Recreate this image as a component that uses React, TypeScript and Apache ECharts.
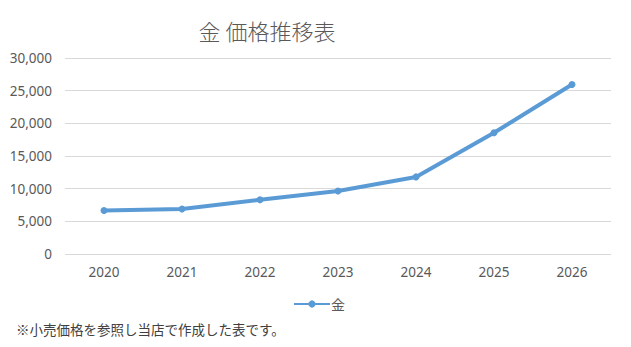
import React, { useEffect, useRef } from "react";
import * as echarts from "echarts";

const years = ["2020", "2021", "2022", "2023", "2024", "2025", "2026"];
const goldPrices = [6650, 6900, 8300, 9650, 11800, 18550, 25950];
const seriesName = "金";
const titleText = "金 価格推移表";
const footnote = "※小売価格を参照し当店で作成した表です。";

const textColor = "#595959";
const lineColor = "#5B9BD5";
const numFont = "'Noto Sans', sans-serif";
const cjkFont = "'Noto Sans CJK JP', sans-serif";

export default function App() {
  const ref = useRef<HTMLDivElement>(null);
  useEffect(() => {
    if (!ref.current) return;
    const chart = echarts.init(ref.current, undefined, { renderer: "svg" });
    chart.setOption({
      animation: false,
      backgroundColor: "#ffffff",
      title: {
        text: titleText,
        left: 262,
        top: 14,
        textAlign: "center",
        textStyle: { fontFamily: cjkFont, fontSize: 22, fontWeight: 300, color: textColor },
      },
      legend: {
        data: [seriesName],
        left: 288,
        top: 292,
        itemWidth: 36,
        itemHeight: 9,
        itemGap: 2,
        textStyle: { fontFamily: cjkFont, fontSize: 14, color: textColor, padding: [0, 0, 0, -4] },
      },
      graphic: [
        {
          type: "text",
          left: 16,
          top: 322,
          style: { text: footnote, font: `13.5px ${cjkFont}`, fill: "#404040" },
        },
      ],
      grid: { left: 65, right: 20, top: 58, bottom: 93, containLabel: false },
      xAxis: {
        type: "category",
        data: years,
        boundaryGap: true,
        axisLine: { show: false },
        axisTick: { show: false },
        axisLabel: { fontFamily: numFont, fontSize: 13.5, color: textColor, margin: 11 },
      },
      yAxis: {
        type: "value",
        min: 0,
        max: 30000,
        interval: 5000,
        axisLine: { show: false },
        axisTick: { show: false },
        splitLine: { lineStyle: { color: "#d9d9d9", width: 1 } },
        axisLabel: {
          fontFamily: numFont,
          fontSize: 13.5,
          color: textColor,
          margin: 13,
          formatter: (v: number) => v.toLocaleString("en-US"),
        },
      },
      series: [
        {
          name: seriesName,
          type: "line",
          data: goldPrices,
          symbol: "circle",
          symbolSize: 7,
          lineStyle: { color: lineColor, width: 4 },
          itemStyle: { color: lineColor },
        },
      ],
    });
    return () => chart.dispose();
  }, []);
  return <div ref={ref} style={{ width: 631, height: 347, position: "absolute", left: 0, top: 0 }} />;
}
